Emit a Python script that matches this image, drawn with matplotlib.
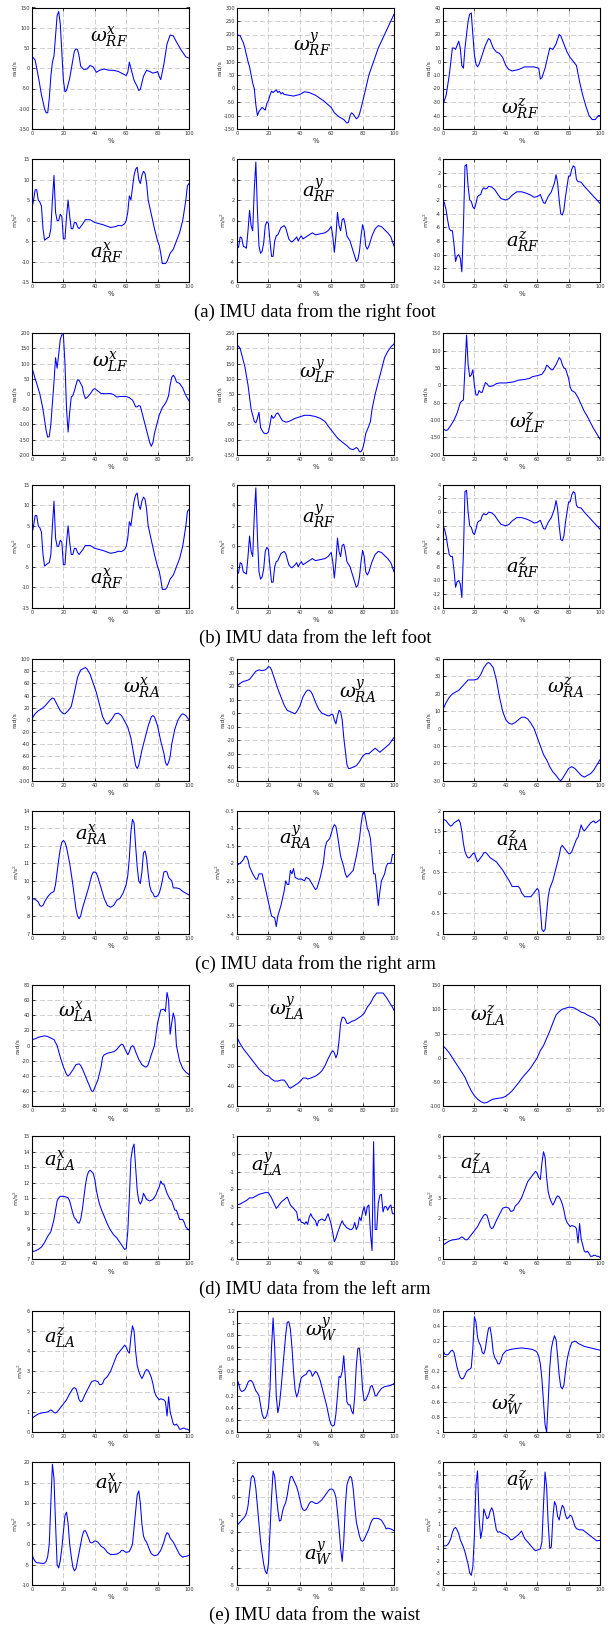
import numpy as np
import matplotlib.pyplot as plt
from matplotlib.ticker import FuncFormatter, MultipleLocator

plt.rcParams['mathtext.fontset'] = 'dejavuserif'

# ---------------- data: (percent of cycle, value) ----------------
w_rf_x = [(0,30),(2,20),(4,-20),(6,-65),(8,-100),(9,-110),(10,-110),(11,-75),(12,-20),(13,15),(14,30),(15,80),(16,130),(17,140),(18,110),(19,40),(20,-30),(21,-58),(22,-55),(24,-25),(26,20),(27,42),(28,48),(29,46),(30,30),(31,5),(33,-3),(35,-2),(37,7),(39,3),(41,-10),(43,-5),(46,-2),(49,-5),(52,-5),(55,-8),(58,-14),(60,-18),(61,-10),(62,15),(63,0),(65,-30),(67,-45),(68,-55),(69,-52),(71,-20),(73,-5),(75,-8),(77,-12),(79,-10),(80,-8),(81,-20),(82,-28),(84,10),(86,60),(88,82),(90,80),(92,65),(95,45),(98,28),(100,25)]
w_rf_y = [(0,200),(2,195),(4,170),(5,150),(7,100),(8,80),(10,20),(11,0),(12,-60),(13,-100),(14,-85),(16,-70),(17,-75),(18,-80),(19,-55),(20,-45),(21,-25),(22,-10),(23,-15),(24,-10),(25,-5),(26,-15),(27,-10),(28,-20),(29,-15),(30,-22),(33,-25),(36,-28),(40,-22),(43,-12),(46,-15),(50,-25),(55,-45),(60,-70),(62,-90),(65,-105),(68,-115),(70,-128),(71,-125),(72,-100),(73,-90),(74,-95),(76,-112),(77,-108),(78,-95),(80,-50),(82,0),(84,50),(87,100),(90,150),(94,200),(98,250),(100,275)]
w_rf_z = [(0,-32),(2,-25),(4,-10),(5,0),(6,10),(7,10),(8,9),(9,12),(10,15),(11,10),(12,-3),(13,-5),(14,10),(15,20),(16,30),(17,35),(18,36),(19,20),(20,5),(21,-2),(22,-4),(23,-2),(25,5),(27,12),(29,17),(30,16),(32,10),(34,7),(36,6),(38,3),(40,-3),(42,-6),(44,-7),(48,-6),(52,-4),(55,-4),(58,-4),(61,-5),(62,-13),(63,-12),(65,-5),(67,5),(68,10),(70,9),(72,13),(74,20),(75,19),(77,13),(79,7),(81,3),(83,0),(85,-3),(87,-15),(89,-25),(91,-33),(93,-40),(95,-43),(97,-43),(99,-40),(100,-40)]
a_rf_x = [(0,3),(1,5),(2,7.5),(3,7.5),(4,5),(5,4.5),(6,3.5),(7,-2),(8,-4.8),(9,-4.5),(10,-4.2),(11,-4),(12,-2),(13,5),(14,11),(15,2),(16,0),(17,0),(18,1.5),(19,1),(20,-4.5),(21,-4.5),(22,1),(23,5),(24,1),(25,-2),(26,-2),(27,-0.5),(28,-0.5),(29,-1.5),(30,-2),(32,-1),(34,0.2),(37,0.2),(40,-0.5),(45,-1),(50,-1.7),(53,-1.5),(55,-1.2),(57,-1.3),(59,-0.8),(60,0),(61,2),(62,6),(63,5),(64,8),(65,11),(66,12.5),(67,13),(68,10),(69,9),(70,11),(71,12),(72,11.5),(73,9),(74,5),(76,1.5),(78,-2),(80,-5),(81,-6),(82,-8),(83,-10.5),(85,-10.5),(86,-10),(88,-8),(90,-7),(92,-5),(94,-3),(96,0),(98,5),(99,8.5),(100,9)]
a_rf_y = [(0,-2.7),(1,-2.6),(2,-1.6),(3,-1.7),(4,-2.5),(5,-2.6),(6,-2.7),(7,-1),(8,1),(9,-0.5),(10,-1),(11,3),(12,5.7),(13,1),(14,-2.5),(15,-3.2),(16,-3),(17,-2.2),(18,-0.5),(19,-0.1),(20,-0.3),(21,-2),(22,-3.5),(23,-3.5),(24,-2),(25,-1.5),(26,-1.4),(28,-0.7),(30,-0.5),(31,-0.7),(33,-1.8),(34,-2),(35,-2.1),(37,-1.8),(38,-1.6),(39,-2),(40,-1.7),(41,-1.5),(42,-1.8),(43,-1.7),(45,-1.5),(48,-1.2),(50,-1.4),(53,-1.3),(56,-1.2),(58,-1),(60,-0.6),(61,-1.5),(62,-3.1),(63,-1.5),(64,0.8),(65,-0.5),(66,-1),(67,0.1),(68,0.2),(69,-0.5),(70,-1.5),(72,-2),(74,-3),(76,-4),(77,-3.8),(78,-3),(79,-1.5),(80,-0.4),(81,-1),(82,-2.5),(83,-2.8),(84,-2.5),(86,-1.5),(88,-0.8),(90,-0.5),(92,-0.6),(94,-0.9),(96,-1.2),(98,-1.6),(100,-2.5)]
a_rf_z = [(0,-2),(1,-2.5),(2,-3.5),(3,-5),(4,-6.2),(5,-6.5),(6,-6.5),(7,-8.5),(8,-11),(9,-10.2),(10,-10),(11,-10.5),(12,-12.5),(13,-6),(14,3),(15,3.2),(16,0),(17,-2),(18,-2.2),(19,-3),(20,-3.3),(21,-2.5),(22,-1.5),(23,-1.3),(24,-1.2),(25,-0.5),(26,-0.2),(27,-0.4),(28,-0.3),(29,0),(31,-0.1),(33,-0.5),(35,-1.2),(37,-1.8),(40,-2),(42,-1.8),(44,-1.3),(47,-0.8),(50,-0.8),(53,-1),(56,-1.3),(58,-1.6),(60,-1.5),(62,-1.2),(64,-2.4),(65,-2.5),(67,-1.5),(69,-0.8),(71,0.5),(72,1.7),(73,0.5),(74,-2),(75,-4),(76,-4.2),(77,-3.5),(78,-1.5),(79,0),(80,1.5),(81,1.5),(82,2.5),(83,3),(84,2.8),(85,1),(86,0.7),(88,0.6),(90,0),(92,-0.5),(94,-1),(96,-1.5),(98,-2),(100,-2.5)]

w_lf_x = [(0,85),(1,70),(2,50),(3,35),(5,0),(7,-50),(9,-120),(10,-142),(11,-140),(12,-100),(13,-30),(14,40),(15,120),(16,85),(17,130),(18,180),(19,195),(20,195),(21,100),(22,-50),(23,-125),(24,-60),(25,-10),(26,-5),(27,10),(28,30),(29,47),(30,45),(31,35),(32,25),(33,0),(34,-15),(35,-12),(37,0),(39,15),(40,18),(42,10),(44,2),(47,1),(50,2),(52,-2),(54,-10),(56,-8),(60,-8),(62,-12),(64,-20),(65,-30),(66,-42),(67,-42),(68,-38),(69,-40),(71,-80),(73,-120),(75,-160),(76,-172),(77,-160),(78,-130),(79,-110),(81,-70),(83,-45),(85,-30),(86,-20),(87,-5),(88,30),(89,55),(90,62),(91,55),(92,40),(94,35),(96,20),(98,-5),(100,-22)]
w_lf_y = [(0,205),(1,208),(2,200),(4,160),(5,140),(7,80),(8,40),(9,0),(10,-20),(11,-40),(12,-45),(13,-30),(14,-10),(15,-60),(16,-70),(17,-78),(18,-80),(19,-80),(20,-75),(21,-50),(22,-20),(23,-30),(24,-25),(25,-15),(26,-12),(27,-20),(28,-30),(29,-38),(30,-40),(31,-42),(32,-42),(34,-38),(37,-30),(40,-25),(43,-20),(46,-20),(50,-24),(53,-30),(56,-40),(58,-55),(61,-75),(64,-95),(67,-108),(70,-120),(72,-130),(74,-133),(76,-126),(77,-130),(78,-140),(79,-140),(80,-130),(81,-110),(82,-80),(84,-55),(85,-40),(86,0),(88,50),(90,90),(92,130),(94,170),(96,190),(98,205),(100,215)]
w_lf_z = [(0,-125),(1,-128),(2,-130),(3,-128),(5,-115),(7,-100),(9,-80),(11,-50),(12,-45),(13,-42),(14,50),(15,145),(16,60),(17,25),(18,30),(19,45),(20,0),(21,-28),(22,-28),(23,-15),(24,-20),(25,-20),(26,-5),(27,8),(28,5),(29,-2),(30,-3),(32,-1),(34,5),(36,7),(40,7),(45,10),(48,15),(52,17),(55,20),(57,25),(60,28),(63,32),(65,45),(66,58),(67,55),(69,45),(70,45),(72,60),(74,80),(75,75),(76,60),(77,50),(78,48),(80,20),(81,-5),(82,-15),(84,-20),(86,-35),(88,-55),(90,-75),(92,-90),(94,-108),(96,-125),(98,-140),(100,-155)]

w_ra_x = [(0,2),(2,10),(4,15),(6,18),(8,22),(10,28),(12,34),(13,36),(14,35),(16,25),(18,15),(20,10),(21,10),(23,15),(25,22),(27,45),(29,70),(31,82),(33,85),(34,86),(35,84),(37,75),(39,60),(41,45),(43,25),(45,5),(47,-5),(48,-7),(49,-5),(51,2),(53,10),(55,11),(57,7),(59,-2),(61,-12),(63,-30),(65,-60),(66,-75),(67,-80),(68,-75),(70,-50),(72,-30),(74,-10),(76,5),(77,7),(78,5),(80,-10),(82,-35),(84,-55),(85,-70),(86,-75),(87,-70),(88,-60),(89,-40),(91,-15),(93,0),(95,8),(96,10),(98,7),(100,0)]
w_ra_y = [(0,20),(2,22),(4,23.5),(6,24),(8,25),(10,28),(12,31),(14,32),(16,31.5),(18,32),(19,33),(20,34.5),(21,34),(22,32),(24,25),(26,18),(28,12),(30,6),(32,2),(34,1),(36,0),(37,-0.5),(38,1),(40,5),(42,12),(44,16),(45,17),(46,17),(47,16),(48,14),(50,8),(52,3),(54,0),(56,-1),(58,-2),(59,-2),(60,-1),(61,-1),(62,-5),(63,-8),(64,-2),(65,2),(66,1),(67,-5),(68,-18),(69,-28),(70,-38),(71,-41),(72,-41),(74,-40),(76,-39),(78,-36),(80,-32),(82,-30),(84,-30),(86,-28),(88,-26),(90,-28),(91,-29),(93,-27),(95,-25),(97,-23),(100,-18)]
w_ra_z = [(0,11),(2,15),(4,18),(6,20),(8,21),(10,22),(12,24),(14,26),(16,28),(18,28),(20,28),(22,28.5),(24,31),(26,35),(28,37.5),(29,38),(30,37.5),(32,35),(34,28),(36,18),(38,10),(40,5),(42,3),(44,2.5),(46,3.5),(48,5),(50,6.5),(52,6.5),(54,5.5),(56,3),(58,0),(60,-5),(62,-10),(64,-15),(66,-18),(68,-22),(70,-25),(72,-27),(74,-29.5),(75,-30),(76,-29),(78,-26),(80,-23),(82,-22),(84,-23),(86,-25),(88,-27),(90,-28),(92,-27),(94,-26),(96,-24),(98,-21),(100,-18)]
a_ra_x = [(0,9),(2,8.95),(4,8.8),(5,8.6),(6,8.55),(7,8.6),(8,8.8),(10,9.1),(12,9.3),(14,9.4),(15,9.8),(16,10.5),(17,11.2),(18,11.8),(19,12.2),(20,12.3),(21,12.2),(22,11.9),(24,11.0),(26,9.8),(28,8.4),(29,8),(30,7.85),(31,8.0),(32,8.4),(34,9.0),(36,9.6),(38,10.3),(39,10.5),(40,10.5),(41,10.45),(42,10.2),(44,9.6),(46,9.0),(48,8.6),(50,8.5),(52,8.6),(54,8.9),(56,9.0),(58,9.3),(60,9.8),(61,10.3),(62,11.3),(63,12.8),(64,13.5),(65,13.3),(66,12.0),(67,10.8),(68,10.0),(69,9.85),(70,10.5),(71,11.6),(72,11.7),(73,11.3),(74,10.4),(75,9.7),(76,9.4),(77,9.3),(78,9.1),(79,9.1),(80,9.15),(81,9.3),(82,9.6),(83,10.0),(84,10.5),(85,10.55),(86,10.5),(87,10.2),(88,10.1),(89,10.0),(90,9.6),(92,9.6),(94,9.55),(96,9.4),(98,9.3),(100,9.2)]
a_ra_y = [(0,-2.05),(2,-2.0),(4,-1.9),(5,-1.8),(6,-1.8),(7,-1.9),(8,-2.1),(10,-2.3),(12,-2.45),(13,-2.45),(14,-2.3),(15,-2.3),(16,-2.3),(17,-2.5),(19,-2.9),(21,-3.3),(22,-3.5),(24,-3.55),(25,-3.8),(26,-3.5),(28,-3.2),(30,-2.8),(31,-2.5),(32,-2.6),(33,-2.6),(34,-2.2),(35,-2.3),(36,-2.15),(37,-2.4),(39,-2.45),(41,-2.45),(43,-2.5),(44,-2.4),(46,-2.45),(48,-2.6),(50,-2.75),(51,-2.7),(53,-2.4),(55,-2.0),(56,-1.6),(57,-1.4),(59,-1.3),(61,-1.0),(62,-0.9),(63,-0.95),(64,-1.2),(65,-1.5),(66,-1.8),(68,-2.1),(69,-2.3),(70,-2.4),(72,-2.3),(74,-2.2),(76,-1.8),(78,-1.3),(79,-0.9),(80,-0.6),(81,-0.5),(82,-0.75),(83,-1.0),(84,-1.1),(85,-1.3),(86,-1.8),(87,-2.3),(88,-2.3),(89,-2.7),(90,-3.2),(91,-2.8),(92,-2.5),(94,-2.3),(95,-2.1),(96,-2.0),(97,-2.0),(98,-2.0),(99,-1.75),(100,-1.75)]
a_ra_z = [(0,1.8),(2,1.75),(3,1.7),(4,1.65),(5,1.62),(6,1.65),(7,1.7),(9,1.75),(10,1.78),(11,1.7),(12,1.5),(13,1.2),(14,1.0),(15,0.9),(16,0.85),(17,0.85),(18,0.9),(19,0.95),(20,0.97),(21,0.85),(22,0.75),(23,0.8),(24,0.85),(25,0.9),(26,0.97),(27,0.98),(28,0.95),(29,0.9),(30,0.85),(32,0.8),(34,0.75),(36,0.65),(38,0.55),(40,0.42),(42,0.3),(44,0.15),(46,0.15),(48,0.15),(49,0.1),(50,0.0),(52,-0.1),(54,-0.1),(56,-0.1),(58,0.0),(60,0.1),(61,0.05),(62,-0.4),(63,-0.9),(64,-0.95),(65,-0.9),(66,-0.5),(67,-0.1),(68,0.1),(70,0.3),(72,0.6),(74,0.9),(75,1.1),(76,1.15),(78,1.05),(80,0.95),(81,0.95),(82,1.0),(84,1.2),(85,1.3),(86,1.35),(87,1.5),(88,1.65),(89,1.55),(90,1.5),(92,1.6),(94,1.7),(96,1.75),(97,1.7),(98,1.72),(100,1.78)]

w_la_x = [(0,8),(2,9),(4,11),(6,12),(8,13),(10,12),(12,10),(14,8),(16,0),(18,-15),(20,-28),(22,-38),(23,-40),(24,-38),(26,-32),(28,-25),(30,-24),(31,-26),(32,-30),(34,-40),(36,-50),(38,-60),(39,-60),(40,-55),(42,-45),(44,-28),(45,-15),(46,-12),(48,-10),(52,-8),(54,-5),(56,0),(57,2),(58,1),(60,-8),(61,-12),(62,-8),(63,-2),(64,0),(65,-2),(66,-8),(68,-18),(70,-25),(72,-28),(73,-28),(74,-25),(76,-12),(78,0),(80,30),(82,47),(84,48),(85,45),(86,70),(87,60),(88,15),(89,30),(90,43),(91,35),(92,0),(94,-20),(96,-30),(98,-35),(100,-38)]
w_la_y = [(0,8),(2,2),(4,-3),(6,-7),(8,-11),(10,-15),(12,-19),(14,-23),(16,-26),(18,-29),(20,-30),(22,-33),(24,-35),(26,-35),(28,-34),(30,-34),(32,-38),(33,-41),(34,-42),(35,-41),(37,-39),(39,-37),(41,-34),(42,-32),(44,-32),(45,-33),(47,-32),(50,-30),(52,-28),(54,-25),(56,-20),(58,-13),(60,-7),(61,-5),(62,-7),(63,-12),(64,-8),(65,5),(66,22),(67,28),(68,28),(69,26),(70,22),(71,22),(73,24),(75,25),(77,27),(79,29),(81,32),(83,38),(85,42),(87,48),(89,52),(91,52),(93,52),(95,48),(97,43),(99,38),(100,35)]
w_la_z = [(0,25),(2,18),(4,10),(6,0),(8,-10),(10,-20),(12,-30),(14,-40),(16,-55),(18,-68),(20,-78),(22,-85),(24,-90),(26,-93),(28,-92),(30,-88),(32,-85),(34,-84),(36,-83),(38,-82),(40,-79),(42,-74),(44,-68),(46,-60),(48,-52),(50,-43),(52,-35),(54,-28),(56,-20),(58,-10),(60,0),(62,15),(64,25),(66,40),(68,55),(70,72),(72,88),(74,95),(76,100),(78,102),(80,104),(82,104),(84,102),(86,98),(88,94),(90,92),(92,88),(94,85),(96,82),(98,75),(100,66)]
a_la_x = [(0,7.5),(2,7.55),(4,7.65),(6,7.8),(8,8.1),(10,8.5),(12,8.8),(13,9.2),(14,9.6),(15,10.2),(16,10.8),(17,11.0),(18,11.1),(20,11.1),(22,11.05),(23,11.0),(24,10.8),(25,10.4),(26,10.0),(27,9.7),(28,9.6),(29,9.4),(30,9.35),(31,9.6),(32,10.2),(33,11.0),(34,11.8),(35,12.4),(36,12.7),(37,12.8),(38,12.7),(39,12.6),(40,12.2),(41,11.5),(42,11.0),(43,10.6),(44,10.3),(46,9.8),(48,9.3),(50,8.9),(52,8.6),(54,8.4),(56,8.1),(58,7.8),(59,7.65),(60,7.7),(61,8.8),(62,11.0),(63,13.5),(64,14.2),(65,14.5),(66,13.0),(67,11.5),(68,10.8),(69,10.6),(70,10.8),(71,11.3),(72,11.1),(73,10.9),(75,10.8),(77,10.9),(79,11.2),(80,11.5),(81,11.7),(82,12.1),(83,11.9),(84,11.9),(85,11.6),(86,11.3),(88,10.9),(89,10.8),(90,10.5),(91,10.2),(92,10.2),(93,9.9),(94,9.6),(96,9.6),(97,9.4),(98,9.1),(100,8.9)]
a_la_y = [(0,-2.9),(2,-2.85),(4,-2.75),(6,-2.65),(8,-2.5),(10,-2.5),(12,-2.4),(14,-2.3),(16,-2.25),(18,-2.2),(20,-2.2),(22,-2.5),(24,-2.9),(25,-3.1),(26,-3.0),(28,-2.75),(30,-2.6),(32,-2.45),(34,-2.9),(36,-3.1),(38,-3.3),(39,-3.8),(40,-3.7),(41,-3.9),(42,-3.9),(43,-4.0),(44,-3.85),(45,-4.0),(46,-3.6),(47,-3.4),(48,-3.6),(50,-3.8),(51,-4.1),(52,-3.8),(54,-3.7),(56,-3.8),(57,-3.6),(58,-3.4),(59,-3.7),(60,-4.0),(61,-4.5),(62,-5.0),(63,-4.8),(64,-4.5),(66,-4.0),(67,-3.8),(68,-4.0),(70,-4.2),(72,-4.3),(73,-4.3),(74,-4.2),(75,-3.9),(76,-4.3),(77,-4.1),(78,-3.6),(79,-3.8),(80,-3.3),(81,-3.0),(82,-3.5),(83,-3.0),(84,-2.9),(85,-4.5),(86,-5.5),(87,0.7),(88,-4.3),(89,-4.3),(90,-2.8),(91,-2.35),(92,-2.3),(93,-3.3),(94,-3.0),(95,-3.0),(96,-3.2),(97,-3.0),(98,-2.9),(99,-3.4),(100,-3.4)]
a_la_z = [(0,0.7),(2,0.8),(4,0.9),(6,0.95),(8,0.97),(10,1.0),(12,1.1),(13,1.05),(14,0.97),(15,0.95),(16,1.0),(18,1.2),(20,1.4),(22,1.6),(24,1.9),(26,2.15),(27,2.2),(28,2.15),(29,1.9),(30,1.6),(31,1.5),(32,1.55),(34,1.9),(36,2.2),(38,2.5),(40,2.55),(42,2.5),(43,2.35),(44,2.35),(45,2.4),(46,2.6),(48,2.75),(50,3.0),(52,3.4),(54,3.8),(56,4.0),(58,4.2),(59,4.3),(60,4.2),(61,4.0),(62,3.9),(63,4.7),(64,5.25),(65,5.0),(66,4.0),(67,3.3),(68,3.0),(69,2.8),(70,2.65),(71,2.8),(72,3.0),(73,3.1),(74,3.05),(75,2.9),(76,2.7),(77,2.4),(78,2.0),(79,1.8),(80,1.7),(81,1.6),(82,1.65),(84,1.6),(85,1.5),(86,0.8),(87,1.75),(88,1.0),(89,0.7),(90,0.4),(91,0.35),(92,0.4),(93,0.3),(94,0.15),(95,0.15),(96,0.2),(97,0.2),(98,0.15),(99,0.15),(100,0.1)]

w_w_y = [(0,0.08),(1,0.0),(2,-0.1),(3,-0.13),(4,-0.12),(5,-0.1),(6,-0.05),(7,0.02),(8,0.05),(9,0.05),(10,0.02),(11,-0.05),(12,-0.12),(13,-0.15),(14,-0.2),(15,-0.35),(16,-0.5),(17,-0.57),(18,-0.57),(19,-0.52),(20,-0.4),(21,-0.1),(22,0.6),(23,1.08),(24,0.6),(25,-0.2),(26,-0.48),(27,-0.35),(28,-0.1),(29,0.2),(30,0.5),(31,0.8),(32,1.01),(33,1.02),(34,0.9),(35,0.6),(36,0.2),(37,-0.1),(38,-0.22),(39,-0.15),(40,0.0),(41,0.1),(42,0.12),(43,0.14),(44,0.15),(45,0.2),(46,0.22),(47,0.2),(48,0.12),(49,0.16),(50,0.2),(51,0.18),(52,0.12),(53,0.05),(55,-0.15),(57,-0.35),(59,-0.6),(60,-0.68),(61,-0.7),(62,-0.68),(63,-0.5),(64,-0.2),(65,0.12),(66,0.1),(67,0.2),(68,0.46),(69,0.1),(70,-0.3),(71,-0.35),(72,-0.35),(73,-0.45),(74,-0.5),(75,-0.2),(76,0.3),(77,0.58),(78,0.58),(79,0.3),(80,-0.1),(81,-0.28),(82,-0.27),(84,-0.15),(85,-0.05),(86,-0.03),(87,-0.1),(88,-0.2),(89,-0.2),(90,-0.15),(92,-0.08),(94,-0.05),(96,-0.04),(98,-0.03),(100,0.0)]
w_w_z = [(0,0.08),(1,0.03),(2,0.02),(3,0.02),(4,0.04),(5,0.07),(6,0.08),(7,0.05),(8,-0.05),(9,-0.15),(10,-0.22),(11,-0.28),(12,-0.3),(13,-0.29),(14,-0.25),(15,-0.2),(16,-0.18),(17,-0.17),(18,-0.15),(19,0.1),(20,0.52),(21,0.45),(22,0.25),(23,0.18),(24,0.14),(25,0.05),(26,0.03),(27,0.1),(28,0.25),(29,0.37),(30,0.38),(31,0.25),(32,0.05),(33,-0.02),(34,-0.05),(35,-0.1),(36,-0.1),(37,-0.05),(38,0.02),(40,0.07),(43,0.09),(46,0.1),(50,0.11),(54,0.1),(57,0.09),(59,0.07),(60,0.05),(61,0.0),(62,-0.1),(63,-0.3),(64,-0.6),(65,-0.9),(66,-1.0),(67,-0.6),(68,-0.15),(69,0.1),(70,0.2),(71,0.27),(72,0.22),(73,0.0),(74,-0.25),(75,-0.4),(76,-0.43),(77,-0.38),(78,-0.2),(79,-0.05),(80,0.05),(81,0.12),(82,0.18),(84,0.2),(85,0.19),(86,0.17),(88,0.15),(90,0.13),(92,0.12),(94,0.11),(96,0.1),(98,0.09),(100,0.08)]
a_w_x = [(0,-2.5),(1,-3.5),(2,-4.2),(3,-4.5),(5,-4.6),(7,-4.7),(8,-4.6),(9,-4.2),(10,-3),(11,0),(12,10),(13,19.5),(14,16),(15,5),(16,-5),(17,-5.8),(18,-4),(19,-1),(20,3),(21,7),(22,7.8),(23,5),(24,0),(25,-3),(26,-5.5),(27,-6.5),(28,-6),(29,-4),(30,-2),(31,0),(32,2),(33,3.2),(34,3.3),(35,2.5),(36,1.5),(37,0.5),(38,0.3),(39,0.5),(40,0.8),(41,0.7),(42,0.5),(44,-0.5),(46,-1),(48,-2),(50,-2.5),(52,-2.5),(54,-2.4),(56,-2),(57,-1.5),(58,-1.5),(59,-1.8),(60,-2),(62,-1.8),(63,-1),(64,0),(65,4),(66,8),(67,12),(68,13),(69,10),(70,5),(71,2),(72,1),(73,0.5),(74,-0.5),(75,-1.5),(76,-2.3),(77,-2.6),(78,-2.8),(80,-2.6),(82,-1.5),(84,0.5),(85,2),(86,2.8),(87,2.5),(88,1.5),(90,0.5),(92,-1),(94,-2.5),(96,-3.2),(97,-3.0),(98,-3.0),(100,-2.7)]
a_w_y = [(0,-1.6),(1,-1.5),(2,-1.4),(3,-1.3),(4,-1.2),(5,-1.1),(6,-0.9),(7,-0.5),(8,0.3),(9,1.1),(10,1.25),(11,1.1),(12,0.5),(13,-0.5),(14,-1.5),(15,-2.5),(16,-3.2),(17,-3.8),(18,-4.2),(19,-4.35),(20,-3.8),(21,-2),(22,0),(23,1.5),(24,1.2),(25,0.2),(26,-0.7),(27,-1.35),(28,-1.3),(29,-0.8),(30,-0.5),(31,-0.3),(32,0.1),(33,0.7),(34,1.15),(35,1.2),(36,1.0),(37,0.8),(38,0.6),(39,0.3),(40,-0.1),(41,-0.5),(42,-0.7),(43,-0.75),(44,-0.7),(45,-0.55),(46,-0.35),(47,-0.25),(48,-0.25),(49,-0.3),(50,-0.35),(51,-0.35),(52,-0.3),(54,-0.15),(56,0.1),(58,0.35),(59,0.45),(60,0.48),(61,0.45),(62,0.3),(63,0),(64,-0.8),(65,-1.8),(66,-2.9),(67,-3.65),(68,-2.5),(69,-0.5),(70,0.7),(71,1.0),(72,1.2),(73,1.1),(74,0.5),(75,-0.5),(76,-1.4),(77,-1.8),(78,-2.2),(79,-2.45),(80,-2.5),(81,-2.4),(82,-2.2),(84,-1.8),(85,-1.5),(86,-1.3),(87,-1.2),(88,-1.2),(90,-1.2),(91,-1.25),(92,-1.3),(94,-1.6),(95,-1.8),(96,-1.75),(98,-1.8),(100,-1.9)]
a_w_z = [(0,-0.8),(2,-0.8),(3,-0.7),(4,-0.5),(5,-0.2),(6,0.3),(7,0.6),(8,0.7),(9,0.5),(10,0.2),(11,-0.3),(12,-0.6),(13,-0.9),(14,-1.3),(15,-1.8),(16,-2.3),(17,-3.0),(18,-3.2),(19,-2.5),(20,0),(21,4.2),(22,5.3),(23,1.5),(24,-0.2),(25,0.5),(26,2.2),(27,1.8),(28,1.4),(29,1.5),(30,2.0),(31,2.3),(32,2.0),(33,1.2),(34,0.5),(35,0.3),(36,0.35),(38,0.2),(40,0.1),(42,-0.1),(43,-0.3),(44,-0.3),(46,-0.1),(47,0.0),(48,0.1),(50,0.4),(51,0.1),(52,-0.2),(54,-0.5),(56,-0.8),(58,-1.1),(59,-1.2),(60,-1.15),(62,-1.05),(63,-0.5),(64,2.5),(65,5.2),(66,4.0),(67,1.0),(68,-1.0),(69,-0.9),(70,1.5),(71,2.8),(72,2.5),(73,1.6),(74,1.3),(75,2.0),(76,2.5),(77,2.3),(78,1.7),(79,1.4),(80,1.5),(81,1.7),(82,1.6),(83,1.2),(84,0.8),(85,0.6),(87,0.5),(89,0.5),(90,0.4),(92,0.2),(94,0.0),(96,-0.2),(98,-0.4),(100,-0.35)]

captions = ["(a) IMU data from the right foot", "(b) IMU data from the left foot",
            "(c) IMU data from the right arm", "(d) IMU data from the left arm",
            "(e) IMU data from the waist"]

RAD = "rad/s"
ACC = "m/s$^2$"

# panels per group: (curve, ymin, ymax, ystep, unit, label, label x, label y in axes fraction)
groups = [
    [(w_rf_x, -150, 150, 50, RAD, r"$\omega^{x}_{RF}$", 0.49, 0.75),
     (w_rf_y, -150, 300, 50, RAD, r"$\omega^{y}_{RF}$", 0.48, 0.69),
     (w_rf_z, -50, 40, 10, RAD, r"$\omega^{z}_{RF}$", 0.49, 0.16),
     (a_rf_x, -15, 15, 5, ACC, r"$a^{x}_{RF}$", 0.48, 0.23),
     (a_rf_y, -6, 6, 2, ACC, r"$a^{y}_{RF}$", 0.52, 0.74),
     (a_rf_z, -14, 4, 2, ACC, r"$a^{z}_{RF}$", 0.51, 0.32)],
    [(w_lf_x, -200, 200, 50, RAD, r"$\omega^{x}_{LF}$", 0.50, 0.76),
     (w_lf_y, -150, 250, 50, RAD, r"$\omega^{y}_{LF}$", 0.51, 0.68),
     (w_lf_z, -200, 150, 50, RAD, r"$\omega^{z}_{LF}$", 0.54, 0.26),
     (a_rf_x, -15, 15, 5, ACC, r"$a^{x}_{RF}$", 0.48, 0.23),
     (a_rf_y, -6, 6, 2, ACC, r"$a^{y}_{RF}$", 0.52, 0.74),
     (a_rf_z, -14, 4, 2, ACC, r"$a^{z}_{RF}$", 0.51, 0.32)],
    [(w_ra_x, -100, 100, 20, RAD, r"$\omega^{x}_{RA}$", 0.70, 0.76),
     (w_ra_y, -50, 40, 10, RAD, r"$\omega^{y}_{RA}$", 0.77, 0.73),
     (w_ra_z, -30, 40, 10, RAD, r"$\omega^{z}_{RA}$", 0.78, 0.76),
     (a_ra_x, 7, 14, 1, ACC, r"$a^{x}_{RA}$", 0.38, 0.80),
     (a_ra_y, -4, -0.5, 0.5, ACC, r"$a^{y}_{RA}$", 0.37, 0.78),
     (a_ra_z, -1, 2, 0.5, ACC, r"$a^{z}_{RA}$", 0.44, 0.75)],
    [(w_la_x, -80, 80, 20, RAD, r"$\omega^{x}_{LA}$", 0.28, 0.77),
     (w_la_y, -60, 60, 20, RAD, r"$\omega^{y}_{LA}$", 0.32, 0.80),
     (w_la_z, -100, 150, 50, RAD, r"$\omega^{z}_{LA}$", 0.29, 0.74),
     (a_la_x, 7, 15, 1, ACC, r"$a^{x}_{LA}$", 0.18, 0.80),
     (a_la_y, -6, 1, 1, ACC, r"$a^{y}_{LA}$", 0.19, 0.77),
     (a_la_z, 0, 6, 1, ACC, r"$a^{z}_{LA}$", 0.21, 0.77)],
    [(a_la_z, 0, 6, 1, ACC, r"$a^{z}_{LA}$", 0.18, 0.77),
     (w_w_y, -0.8, 1.2, 0.2, RAD, r"$\omega^{y}_{W}$", 0.54, 0.84),
     (w_w_z, -1, 0.6, 0.2, RAD, r"$\omega^{z}_{W}$", 0.41, 0.22),
     (a_w_x, -10, 20, 5, ACC, r"$a^{x}_{W}$", 0.49, 0.82),
     (a_w_y, -5, 2, 1, ACC, r"$a^{y}_{W}$", 0.52, 0.25),
     (a_w_z, -4, 6, 1, ACC, r"$a^{z}_{W}$", 0.49, 0.84)],
]

tick_fmt = FuncFormatter(lambda v, _: f"{round(v, 6):g}".replace("-0", "-0") if abs(v) > 1e-9 else "0")

# ---------------- layout in pixels ----------------
W, H = 608, 1629
fig = plt.figure(figsize=(W / 100, H / 100), dpi=100)
col_left = [32, 237, 443]
ax_w = 157
group_h = 325.8
row_top = [7.5, 159]
row_h = [121.5, 123]

for g, panels in enumerate(groups):
    for k, (curve, y0, y1, ystep, unit, label, lx, ly) in enumerate(panels):
        r, c = divmod(k, 3)
        top = g * group_h + row_top[r]
        ax = fig.add_axes([col_left[c] / W, 1 - (top + row_h[r]) / H, ax_w / W, row_h[r] / H])
        xs, ys = np.array(curve).T
        ax.plot(xs, ys, color="#0000ff", lw=0.75)
        ax.set_xlim(0, 100)
        ax.set_ylim(y0, y1)
        ax.xaxis.set_major_locator(MultipleLocator(20))
        ax.yaxis.set_major_locator(MultipleLocator(ystep))
        ax.yaxis.set_major_formatter(tick_fmt)
        ax.grid(True, color="#c8c8c8", lw=0.6, ls=(0, (6, 3)))
        ax.tick_params(direction="in", length=2, width=0.5, labelsize=3.6,
                       labelcolor="#333333", top=True, right=True, pad=1.5)
        for s in ax.spines.values():
            s.set_linewidth(0.8)
        ax.set_xlabel("%", fontsize=5, color="#333333", labelpad=1.5)
        ax.set_ylabel(unit, fontsize=4.5, color="#333333", labelpad=1.5)
        ax.text(lx, ly, label, transform=ax.transAxes, fontsize=14,
                ha="center", va="center")
    fig.text(315 / W, 1 - (g * group_h + 312) / H, captions[g], fontsize=13.5,
             family="Liberation Serif", ha="center", va="center")

fig.savefig("out.png", dpi=100)
